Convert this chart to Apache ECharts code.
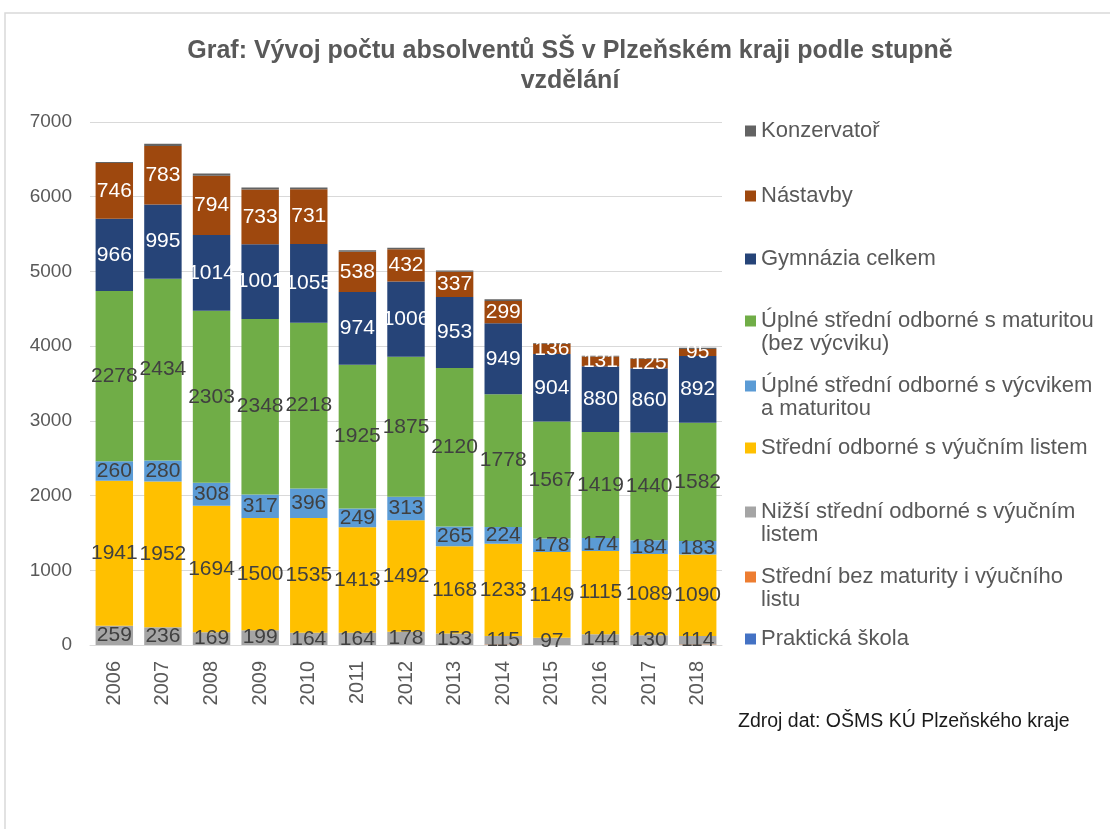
<!DOCTYPE html>
<html>
<head>
<meta charset="utf-8">
<script src="https://cdn.jsdelivr.net/npm/echarts@6/dist/echarts.min.js"></script>
<style>
  html, body { margin: 0; padding: 0; background: #fff; }
  #chart { width: 1110px; height: 829px; }
</style>
</head>
<body>
<div id="chart"></div>
<script>
// roky
const years = ["2006", "2007", "2008", "2009", "2010", "2011", "2012", "2013", "2014", "2015", "2016", "2017", "2018"];

// hodnoty podle stupně vzdělání (odspodu nahoru)
const prakticka = [0, 0, 0, 0, 0, 0, 0, 0, 0, 0, 0, 0, 0];
const bezMaturity = [0, 0, 0, 0, 0, 0, 0, 0, 6, 0, 0, 0, 6];
const nizsi = [259, 236, 169, 199, 164, 164, 178, 153, 115, 97, 144, 130, 114];
const vyucni = [1941, 1952, 1694, 1500, 1535, 1413, 1492, 1168, 1233, 1149, 1115, 1089, 1090];
const vycvik = [260, 280, 308, 317, 396, 249, 313, 265, 224, 178, 174, 184, 183];
const maturita = [2278, 2434, 2303, 2348, 2218, 1925, 1875, 2120, 1778, 1567, 1419, 1440, 1582];
const gymnazia = [966, 995, 1014, 1001, 1055, 974, 1006, 953, 949, 904, 880, 860, 892];
const nastavby = [746, 783, 794, 733, 731, 538, 432, 337, 299, 136, 131, 125, 95];
const konzervator = [15, 30, 30, 25, 25, 20, 20, 15, 25, 10, 10, 10, 15];

const yTicks = [0, 1000, 2000, 3000, 4000, 5000, 6000, 7000];

const font = "Liberation Sans, Arial, sans-serif";
const dark = "#404040";

// pořadí řad ve stohu + barvy, jestli se ukazuje popisek
const seriesDefs = [
  { name: "Praktická škola", data: prakticka, color: "#4472C4", label: false },
  { name: "Střední bez maturity i výučního listu", data: bezMaturity, color: "#ED7D31", label: false },
  { name: "Nižší střední odborné s výučním listem", data: nizsi, color: "#A5A5A5", label: dark },
  { name: "Střední odborné s výučním listem", data: vyucni, color: "#FFC000", label: dark },
  { name: "Úplné střední odborné s výcvikem a maturitou", data: vycvik, color: "#5B9BD5", label: dark },
  { name: "Úplné střední odborné s maturitou (bez výcviku)", data: maturita, color: "#70AD47", label: dark },
  { name: "Gymnázia celkem", data: gymnazia, color: "#264478", label: "#fff" },
  { name: "Nástavby", data: nastavby, color: "#9E480E", label: "#fff" },
  { name: "Konzervatoř", data: konzervator, color: "#636363", label: false },
];

// legenda - první řádek a případné pokračování, svislá pozice středu
const legendItems = [
  { name: "Konzervatoř", first: "Konzervatoř", second: null, y: 131 },
  { name: "Nástavby", first: "Nástavby", second: null, y: 196 },
  { name: "Gymnázia celkem", first: "Gymnázia celkem", second: null, y: 259 },
  { name: "Úplné střední odborné s maturitou (bez výcviku)", first: "Úplné střední odborné s maturitou", second: "(bez výcviku)", y: 321 },
  { name: "Úplné střední odborné s výcvikem a maturitou", first: "Úplné střední odborné s výcvikem", second: "a maturitou", y: 386 },
  { name: "Střední odborné s výučním listem", first: "Střední odborné s výučním listem", second: null, y: 448 },
  { name: "Nižší střední odborné s výučním listem", first: "Nižší střední odborné s výučním", second: "listem", y: 512 },
  { name: "Střední bez maturity i výučního listu", first: "Střední bez maturity i výučního", second: "listu", y: 577 },
  { name: "Praktická škola", first: "Praktická škola", second: null, y: 639 },
];

const chart = echarts.init(document.getElementById("chart"));

const legends = legendItems.map((it) => ({
  data: [it.name],
  orient: "vertical",
  left: 745,
  top: it.y - 12,
  padding: 0,
  itemWidth: 11,
  itemHeight: 11,
  icon: "rect",
  selectedMode: false,
  formatter: () => it.first,
  textStyle: { fontFamily: font, fontSize: 22, color: "#595959", lineHeight: 24 },
}));

const extraText = legendItems.filter((it) => it.second).map((it) => ({
  type: "text",
  left: 761,
  top: it.y + 25 - 13,
  style: { text: it.second, font: "22px " + font, fill: "#595959" },
}));

const option = {
  animation: false,
  title: {
    text: "Graf: Vývoj počtu absolventů SŠ v Plzeňském kraji podle stupně\nvzdělání",
    left: 565,
    top: 31,
    textAlign: "center",
    textStyle: { fontFamily: font, fontSize: 25, fontWeight: "bold", color: "#595959", lineHeight: 30 },
  },
  legend: legends,
  grid: { left: 90, right: 388, top: 122, bottom: 184 },
  xAxis: {
    type: "category",
    data: years,
    axisTick: { show: false },
    axisLine: { lineStyle: { color: "#d9d9d9", width: 1 } },
    axisLabel: { rotate: 90, margin: 16, fontFamily: font, fontSize: 20, color: "#595959" },
  },
  yAxis: {
    type: "value",
    min: yTicks[0],
    max: yTicks[yTicks.length - 1],
    interval: 1000,
    axisLabel: { margin: 18, fontFamily: font, fontSize: 19, color: "#595959", formatter: (v) => String(v) },
    splitLine: { lineStyle: { color: "#d9d9d9", width: 1 } },
  },
  series: seriesDefs.map((s) => ({
    name: s.name,
    type: "bar",
    stack: "celkem",
    barCategoryGap: "23%",
    data: s.data,
    itemStyle: { color: s.color },
    label: {
      show: !!s.label,
      position: "inside",
      color: s.label || dark,
      fontFamily: font,
      fontSize: 21,
      formatter: (p) => (p.value ? p.value : ""),
    },
  })),
  graphic: [
    {
      type: "rect",
      shape: { x: 5, y: 13, width: 1200, height: 900 },
      style: { fill: null, stroke: "#d9d9d9", lineWidth: 1.5 },
      silent: true,
    },
    {
      type: "text",
      left: 738,
      top: 712,
      style: { text: "Zdroj dat: OŠMS KÚ Plzeňského kraje", font: "19.5px " + font, fill: "#1a1a1a" },
    },
    ...extraText,
  ],
};

chart.setOption(option);
</script>
</body>
</html>
